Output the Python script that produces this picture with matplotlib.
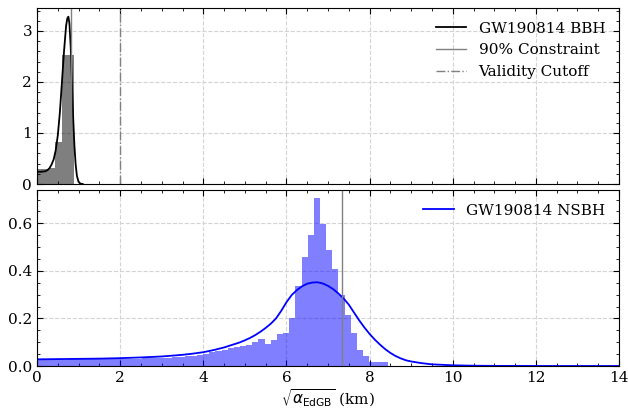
import numpy as np
import matplotlib
matplotlib.use('Agg')
import matplotlib.pyplot as plt
from matplotlib.ticker import MultipleLocator

plt.rcParams['font.family'] = ['DejaVu Serif']
plt.rcParams['mathtext.fontset'] = 'dejavusans'
plt.rcParams['font.size'] = 11
plt.rcParams['xtick.direction'] = 'in'
plt.rcParams['ytick.direction'] = 'in'
plt.rcParams['xtick.top'] = True
plt.rcParams['ytick.right'] = True

# histogram bin width (km), bins start at 0
bin_width = 0.148

# GW190814 BBH histogram (bins from 0)
bbh_hist = [0.30, 0.29, 0.31, 0.82, 2.53, 2.53]

# GW190814 BBH curve
bbh_x = [0.0, 0.1, 0.2, 0.25, 0.3, 0.35, 0.4, 0.45, 0.5, 0.55, 0.6, 0.65,
         0.7, 0.73, 0.755, 0.78, 0.81, 0.84, 0.87, 0.9, 0.93, 0.96, 1.0,
         1.05, 1.1]
bbh_y = [0.24, 0.24, 0.25, 0.27, 0.31, 0.38, 0.48, 0.66, 0.95, 1.4, 2.0, 2.6,
         3.1, 3.25, 3.28, 3.15, 2.7, 2.0, 1.3, 0.75, 0.38, 0.16, 0.04,
         0.005, 0.0]

# GW190814 NSBH histogram (bins from 0)
nsbh_hist = [0.027, 0.028, 0.027, 0.028, 0.027, 0.028, 0.028, 0.028, 0.029,
             0.028, 0.029, 0.029, 0.030, 0.030, 0.030, 0.031, 0.031, 0.032,
             0.032, 0.033, 0.034, 0.035, 0.036, 0.039, 0.041, 0.044, 0.048,
             0.052, 0.057, 0.062, 0.068, 0.075, 0.080, 0.084, 0.088, 0.102,
             0.113, 0.092, 0.110, 0.135, 0.140, 0.203, 0.337, 0.458, 0.549,
             0.706, 0.597, 0.488, 0.408, 0.298, 0.215, 0.138, 0.067, 0.043,
             0.017, 0.017, 0.015]

# GW190814 NSBH curve
nsbh_x = [0, 0.5, 1, 1.5, 2, 2.5, 3, 3.5, 3.75, 4, 4.25, 4.5, 4.625, 4.75,
          4.875, 5.0, 5.125, 5.25, 5.375, 5.5, 5.625, 5.75, 5.875, 6.0,
          6.125, 6.25, 6.375, 6.5, 6.625, 6.75, 6.875, 7.0, 7.125, 7.25,
          7.375, 7.5, 7.625, 7.75, 7.875, 8.0, 8.125, 8.25, 8.375, 8.5,
          8.625, 8.75, 8.875, 9.0, 9.25, 9.5, 10, 10.5, 11, 12, 14]
nsbh_y = [0.028, 0.029, 0.030, 0.031, 0.033, 0.036, 0.040, 0.047, 0.052,
          0.058, 0.067, 0.078, 0.085, 0.092, 0.099, 0.108, 0.118, 0.130,
          0.144, 0.160, 0.178, 0.200, 0.232, 0.268, 0.298, 0.319, 0.335,
          0.346, 0.351, 0.352, 0.347, 0.337, 0.323, 0.305, 0.284, 0.258,
          0.225, 0.192, 0.162, 0.135, 0.111, 0.090, 0.071, 0.055, 0.042,
          0.032, 0.024, 0.019, 0.012, 0.007, 0.003, 0.0012, 0.0005, 0.0001,
          0.0]

bbh_constraint = 0.82
nsbh_constraint = 7.34
validity_cutoff = 2.0

fig = plt.figure(figsize=(6.28, 4.13), dpi=100)
W, H = 628, 413
ax1 = fig.add_axes([37 / W, 1 - 184 / H, 582 / W, 176 / H])
ax2 = fig.add_axes([37 / W, 1 - 366 / H, 582 / W, 176 / H])

bbh_edges = np.arange(len(bbh_hist) + 1) * bin_width
nsbh_edges = np.arange(len(nsbh_hist) + 1) * bin_width

ax1.stairs(bbh_hist, bbh_edges, fill=True, color='k', alpha=0.5, lw=0)
ax1.plot(bbh_x, bbh_y, color='k', lw=1.3, label='GW190814 BBH')
ax1.axvline(bbh_constraint, color='gray', lw=1.0, label='90% Constraint')
ax1.axvline(validity_cutoff, color='gray', lw=1.0, ls='-.',
            label='Validity Cutoff')
ax1.set_ylim(0, 3.45)
ax1.yaxis.set_major_locator(MultipleLocator(1))
ax1.yaxis.set_minor_locator(MultipleLocator(0.2))
ax1.legend(loc='upper right', frameon=False)
ax1.tick_params(labelbottom=False)

ax2.stairs(nsbh_hist, nsbh_edges, fill=True, color='b', alpha=0.5, lw=0)
ax2.plot(nsbh_x, nsbh_y, color='b', lw=1.3, label='GW190814 NSBH')
ax2.axvline(nsbh_constraint, color='gray', lw=1.0)
ax2.set_ylim(0, 0.74)
ax2.yaxis.set_major_locator(MultipleLocator(0.2))
ax2.yaxis.set_minor_locator(MultipleLocator(0.05))
ax2.legend(loc='upper right', frameon=False)
ax2.set_xlabel(r'$\sqrt{\alpha_{\rm EdGB}}$ (km)', labelpad=2)

for ax in (ax1, ax2):
    ax.set_xlim(0, 14)
    ax.xaxis.set_major_locator(MultipleLocator(2))
    ax.xaxis.set_minor_locator(MultipleLocator(0.5))
    ax.tick_params(which='major', length=4, width=0.8)
    ax.tick_params(which='minor', length=2, width=0.6)
    ax.grid(True, ls='--', color='lightgray', lw=0.8)
    ax.set_axisbelow(True)

plt.savefig('out.png', dpi=100)
